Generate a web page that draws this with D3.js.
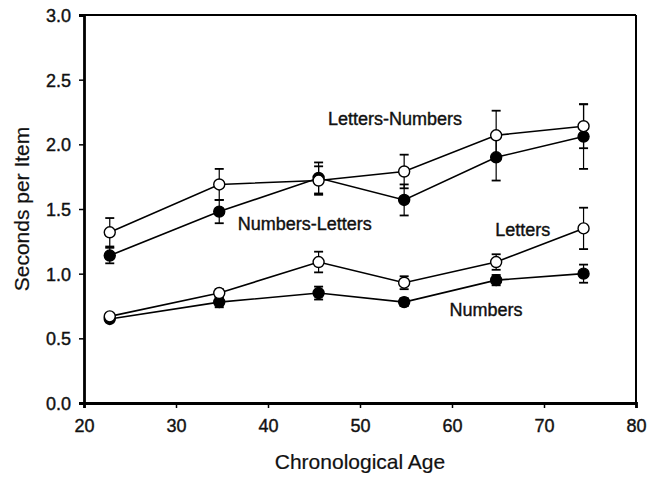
<!DOCTYPE html>
<html>
<head>
<meta charset="utf-8">
<script src="https://cdn.jsdelivr.net/npm/d3@7"></script>
<style>
  html, body { margin: 0; padding: 0; background: #fff; }
  svg { display: block; font-family: Arial, "Liberation Sans", sans-serif; }
  .tick text { font-size: 18px; fill: #111; stroke: #111; stroke-width: 0.4; }
  .axis-title { font-size: 21px; fill: #111; stroke: #111; stroke-width: 0.2; }
  .series-label { font-size: 18px; fill: #111; stroke: #111; stroke-width: 0.4; }
</style>
</head>
<body>
<svg id="chart" width="649" height="478"></svg>
<script>
(function () {
  'use strict';

  // Mean age of each group
  const AGES = [22.8, 34.7, 45.5, 54.8, 64.8, 74.3];

  // Mean seconds per item
  const LETTERS_NUMBERS = [1.32, 1.69, 1.72, 1.79, 2.07, 2.14];
  const NUMBERS_LETTERS = [1.14, 1.48, 1.74, 1.57, 1.90, 2.06];
  const LETTERS = [0.67, 0.85, 1.09, 0.93, 1.09, 1.35];
  const NUMBERS = [0.65, 0.78, 0.85, 0.78, 0.95, 1.00];

  // Error bar half-widths (symmetric)
  const LETTERS_NUMBERS_ERR = [0.11, 0.12, 0.11, 0.13, 0.19, 0.17];
  const NUMBERS_LETTERS_ERR = [0.06, 0.09, 0.12, 0.12, 0.18, 0.25];
  const LETTERS_ERR = [0.02, 0.03, 0.08, 0.05, 0.06, 0.16];
  const NUMBERS_ERR = [0.02, 0.04, 0.05, 0.03, 0.04, 0.07];

  const X_TICKS = [20, 30, 40, 50, 60, 70, 80];
  const Y_TICKS = [0, 0.5, 1.0, 1.5, 2.0, 2.5, 3.0];

  // Series label anchors (data space)
  const LABELS = [
    { text: 'Letters-Numbers', age: 53.8, value: 2.20 },
    { text: 'Numbers-Letters', age: 44.0, value: 1.39 },
    { text: 'Letters', age: 67.7, value: 1.34 },
    { text: 'Numbers', age: 63.7, value: 0.72 }
  ];

  const series = [
    { name: 'Numbers-Letters', values: NUMBERS_LETTERS, err: NUMBERS_LETTERS_ERR, filled: true },
    { name: 'Letters-Numbers', values: LETTERS_NUMBERS, err: LETTERS_NUMBERS_ERR, filled: false },
    { name: 'Numbers', values: NUMBERS, err: NUMBERS_ERR, filled: true },
    { name: 'Letters', values: LETTERS, err: LETTERS_ERR, filled: false }
  ];

  const margin = { top: 15, right: 13, bottom: 75, left: 84 };
  const W = 649, H = 478;
  const iw = W - margin.left - margin.right;
  const ih = H - margin.top - margin.bottom;

  const svg = d3.select('#chart');
  const g = svg.append('g').attr('transform', `translate(${margin.left},${margin.top})`);

  const x = d3.scaleLinear().domain([20, 80]).range([0, iw]);
  const y = d3.scaleLinear().domain([0, 3]).range([ih, 0]);

  // frame: top & right thinner than the axes
  g.append('line').attr('x1', 0).attr('x2', iw).attr('y1', 0).attr('y2', 0)
    .attr('stroke', '#000').attr('stroke-width', 2.2);
  g.append('line').attr('x1', iw).attr('x2', iw).attr('y1', 0).attr('y2', ih)
    .attr('stroke', '#000').attr('stroke-width', 2);

  const xAxis = g.append('g').attr('transform', `translate(0,${ih})`)
    .call(d3.axisBottom(x).tickValues(X_TICKS).tickFormat(d3.format('d')).tickSize(5).tickPadding(11));
  const yAxis = g.append('g')
    .call(d3.axisLeft(y).tickValues(Y_TICKS).tickFormat(d3.format('.1f')).tickSize(5).tickPadding(8));

  [xAxis, yAxis].forEach(a => {
    a.select('.domain').attr('stroke', '#000').attr('stroke-width', 2.8);
    a.selectAll('.tick line').attr('stroke', '#000').attr('stroke-width', 1.5);
  });
  yAxis.selectAll('.tick text').attr('dy', '0.36em');

  // axis titles
  svg.append('text').attr('class', 'axis-title')
    .attr('x', margin.left + iw / 2).attr('y', 469)
    .attr('text-anchor', 'middle').text('Chronological Age');
  svg.append('text').attr('class', 'axis-title')
    .attr('transform', `translate(29,${margin.top + ih / 2}) rotate(-90)`)
    .attr('text-anchor', 'middle').text('Seconds per Item');

  const line = d3.line().x(d => x(d.age)).y(d => y(d.v));
  const capW = 4.5;

  series.forEach(s => {
    const pts = AGES.map((age, i) => ({ age, v: s.values[i], e: s.err[i] }));
    const sg = g.append('g');

    sg.selectAll('g.err').data(pts).join('g').attr('class', 'err')
      .each(function (d) {
        const e = d3.select(this);
        const cx = x(d.age);
        e.append('line').attr('x1', cx).attr('x2', cx)
          .attr('y1', y(d.v + d.e)).attr('y2', y(d.v - d.e))
          .attr('stroke', '#000').attr('stroke-width', 1.2);
        [d.v + d.e, d.v - d.e].forEach(v => {
          e.append('line').attr('x1', cx - capW).attr('x2', cx + capW)
            .attr('y1', y(v)).attr('y2', y(v))
            .attr('stroke', '#000').attr('stroke-width', 1.8);
        });
      });

    sg.append('path').datum(pts).attr('d', line)
      .attr('fill', 'none').attr('stroke', '#000').attr('stroke-width', 1.6);

    sg.selectAll('circle').data(pts).join('circle')
      .attr('cx', d => x(d.age)).attr('cy', d => y(d.v)).attr('r', 5.5)
      .attr('fill', s.filled ? '#000' : '#fff')
      .attr('stroke', '#000').attr('stroke-width', 1.4);
  });

  g.selectAll('text.series-label').data(LABELS).join('text')
    .attr('class', 'series-label')
    .attr('x', d => x(d.age)).attr('y', d => y(d.value))
    .attr('text-anchor', 'middle').attr('dy', '0.35em')
    .text(d => d.text);
})();
</script>
</body>
</html>
